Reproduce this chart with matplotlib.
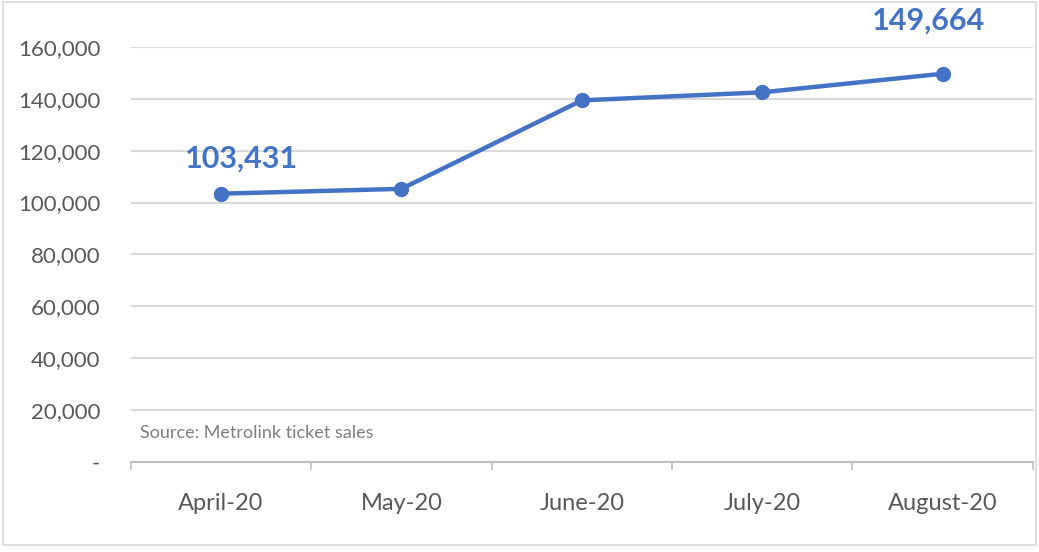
import matplotlib.pyplot as plt
from matplotlib.patches import Rectangle
from matplotlib.ticker import FuncFormatter, FixedLocator

plt.rcParams['font.family'] = ['Lato', 'DejaVu Sans']

# Metrolink ticket sales by month
months = ["April-20", "May-20", "June-20", "July-20", "August-20"]
sales = [103431, 105300, 139400, 142500, 149664]
y_ticks = [0, 20000, 40000, 60000, 80000, 100000, 120000, 140000, 160000]

blue = '#4472C4'
grey_text = '#595959'
grid_col = '#d9d9d9'

fig = plt.figure(figsize=(10.39, 5.52), dpi=100)
ax = fig.add_axes([0.126, 0.163, 0.868, 0.752])

x = list(range(len(months)))
ax.plot(x, sales, color=blue, linewidth=3.2, marker='o', markersize=10,
        clip_on=False, zorder=3)

ax.set_xlim(-0.5, len(months) - 0.5)
ax.set_ylim(0, 160000)

ax.set_yticks(y_ticks)
ax.yaxis.set_major_formatter(FuncFormatter(lambda v, p: '-' if v == 0 else f'{int(v):,}'))
ax.grid(axis='y', color=grid_col, linewidth=1.5)
ax.set_axisbelow(True)

ax.set_xticks(x)
ax.set_xticklabels(months)
ax.xaxis.set_minor_locator(FixedLocator([i - 0.5 for i in range(len(months) + 1)]))
ax.tick_params(axis='x', which='major', length=0, pad=22, labelsize=17, labelcolor=grey_text)
ax.tick_params(axis='x', which='minor', length=6, width=1.2, color='#bfbfbf', direction='out')
ax.tick_params(axis='y', length=0, pad=22, labelsize=16, labelcolor=grey_text)

for side in ['top', 'right', 'left']:
    ax.spines[side].set_visible(False)
ax.spines['bottom'].set_color('#bfbfbf')
ax.spines['bottom'].set_linewidth(1.5)

# first and last values labelled
ax.annotate(f'{sales[0]:,}', (x[0], sales[0]), xytext=(15, 25), textcoords='offset points',
            ha='center', va='center', color=blue, fontsize=22, fontweight='bold')
ax.annotate(f'{sales[-1]:,}', (x[-1], sales[-1]), xytext=(-10, 38), textcoords='offset points',
            ha='center', va='center', color=blue, fontsize=22, fontweight='bold',
            annotation_clip=False)

ax.text(0.01, 0.07, 'Source: Metrolink ticket sales', transform=ax.transAxes,
        color='#7f7f7f', fontsize=13, va='center', ha='left')

fig.patches.append(Rectangle((0.003, 0.012), 0.994, 0.985, transform=fig.transFigure,
                             fill=False, edgecolor='#d9d9d9', linewidth=1.2))

plt.savefig('out.png', dpi=100)
